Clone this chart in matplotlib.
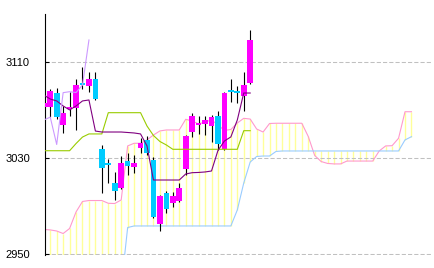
import matplotlib
matplotlib.use('Agg')
import matplotlib.pyplot as plt
import numpy as np

plt.rcParams['font.family'] = ['Liberation Sans', 'DejaVu Sans']

# ---- data ----
opens = [3072.8, 3072.8, 3084.2, 3057.8, 3071.1, 3071.7, 3093.0, 3090.5, 3096.1, 3037.8,
         3025.7, 3009.7, 3005.5, 3027.9, 3022.5, 3038.8, 3045.3, 3028.6, 2975.3, 3001.1,
         2993.0, 2994.7, 3021.1, 3052.2, 3057.8, 3058.6, 3056.5, 3065.3, 3037.8, 3086.3,
         3085.5, 3081.9, 3092.5]
highs = [3077.8, 3087.5, 3088.6, 3073.6, 3085.3, 3096.1, 3106.3, 3101.5, 3102.2, 3041.1,
         3029.4, 3018.8, 3031.9, 3034.0, 3032.7, 3046.7, 3048.2, 3031.1, 2999.4, 3002.8,
         3002.2, 3009.4, 3049.4, 3067.7, 3065.5, 3065.3, 3066.1, 3069.4, 3085.3, 3095.8,
         3090.2, 3102.2, 3136.9]
lows = [3070.3, 3064.7, 3062.8, 3051.3, 3065.0, 3053.6, 3087.7, 3085.0, 3078.6, 3000.8,
        3009.2, 2995.3, 3004.8, 3016.1, 3017.8, 3034.8, 3032.7, 2980.3, 2969.4, 2984.7,
        2989.7, 2993.8, 3016.1, 3048.0, 3050.3, 3049.4, 3043.6, 3036.9, 3036.9, 3077.2,
        3076.3, 3069.7, 3091.9]
closes = [3076.1, 3086.3, 3064.2, 3067.5, 3072.5, 3091.1, 3091.1, 3096.1, 3079.2, 3022.2,
          3024.4, 3002.9, 3026.1, 3023.8, 3026.3, 3043.0, 3034.2, 2981.1, 2998.6, 2987.8,
          2998.6, 3005.5, 3048.6, 3065.5, 3059.0, 3061.9, 3064.3, 3041.5, 3084.7, 3085.5,
          3084.8, 3091.1, 3128.6]

tenkan = [3082.7, 3079.4, 3077.8, 3073.6, 3070.3, 3073.6, 3077.8, 3078.6, 3052.7, 3051.9,
          3051.9, 3051.9, 3051.9, 3051.5, 3051.1, 3050.3, 3040.3, 3011.9, 3011.9, 3011.9,
          3011.9, 3011.9, 3016.9, 3018.0, 3018.2, 3018.6, 3019.4, 3036.5, 3044.4, 3047.8,
          3061.9, 3084.4, 3084.4]
kijun = [3036.3, 3036.3, 3036.3, 3036.3, 3036.3, 3042.3, 3047.7, 3050.3, 3050.3, 3050.3,
         3068.0, 3068.0, 3068.0, 3068.0, 3068.0, 3068.0, 3056.9, 3049.0, 3044.0, 3041.1,
         3037.5, 3037.5, 3037.5, 3037.5, 3037.5, 3037.5, 3037.5, 3037.5, 3037.5, 3037.5,
         3037.5, 3053.0, 3053.0]
span_a = [2970.7, 2970.3, 2969.4, 2967.3, 2971.5, 2985.3, 2994.0, 2994.8, 2994.8, 2994.8,
          2992.5, 2992.3, 2995.3, 3040.3, 3042.5, 3042.5, 3045.3, 3049.4, 3052.8, 3053.6,
          3053.6, 3053.6, 3062.5, 3061.1, 3058.6, 3060.3, 3061.9, 3057.8, 3053.2, 3054.0,
          3059.4, 3063.3, 3062.7, 3054.4, 3051.9, 3059.0, 3059.2, 3059.2, 3059.2, 3059.2,
          3059.2, 3048.2, 3032.3, 3027.3, 3025.7, 3025.3, 3025.3, 3027.7, 3027.7, 3027.7,
          3027.7, 3027.7, 3036.1, 3040.3, 3040.5, 3046.7, 3068.8, 3068.8]
span_b = [2922.7, 2922.7, 2922.7, 2922.7, 2922.7, 2922.7, 2922.7, 2922.7, 2922.7, 2922.7,
          2922.7, 2922.7, 2922.7, 2972.3, 2973.6, 2973.6, 2973.6, 2973.6, 2973.6, 2973.6,
          2973.6, 2973.6, 2973.6, 2973.6, 2973.6, 2973.6, 2973.6, 2973.6, 2973.6, 2973.6,
          2986.9, 3009.4, 3026.9, 3031.5, 3031.9, 3031.9, 3035.7, 3036.1, 3036.1, 3036.1,
          3036.1, 3036.1, 3036.1, 3036.1, 3036.1, 3036.1, 3036.1, 3036.1, 3036.1, 3036.1,
          3036.1, 3036.1, 3036.1, 3036.1, 3036.1, 3036.1, 3045.3, 3048.0]
chikou_shift = 25
y_ticks = [2950, 3030, 3110]
y_tick_labels = ['2950', '3030', '3110']

UP = '#FF00FF'
DOWN = '#00CCFF'

fig = plt.figure(figsize=(4.35, 2.68), dpi=100)
ax = fig.add_axes([45.3 / 435, 1 - 255.0 / 268, (433 - 45.3) / 435, (255.0 - 14) / 268])
ax.set_xlim(0.233, 60.34)
ax.set_ylim(2949.4, 3150.25)

o = np.array(opens); c = np.array(closes); h = np.array(highs); l = np.array(lows)
x = np.arange(len(c))
xc = np.arange(len(span_a))
sa = np.array(span_a); sb = np.array(span_b)

# cloud hatch
ax.vlines(xc, np.minimum(sa, sb), np.maximum(sa, sb), colors='#FFFF99', lw=1.0, zorder=1)
ax.plot(xc, sa, color='#FF99CC', lw=0.8, zorder=2)
ax.plot(xc, sb, color='#99CCFF', lw=0.8, zorder=2)

# candles
ax.vlines(x, l, h, colors='black', lw=0.8, zorder=3)
bottoms = np.minimum(o, c)
heights = np.maximum(np.abs(c - o), 1.0)
cols = [UP if cc >= oo else DOWN for oo, cc in zip(o, c)]
ax.bar(x, heights, bottom=bottoms, width=0.88, color=cols, linewidth=0, zorder=4)

# lines
ax.plot(x, kijun, color='#99CC00', lw=0.8, zorder=5)
ax.plot(x, tenkan, color='#800080', lw=0.8, zorder=5)
ax.plot(x[:len(c) - chikou_shift], c[chikou_shift:], color='#CC99FF', lw=0.8, zorder=5)

# axes styling
for s in ['top', 'right', 'bottom']:
    ax.spines[s].set_visible(False)
ax.spines['left'].set_linewidth(0.8)
ax.spines['left'].set_color('black')
ax.set_xticks([])
ax.set_yticks(y_ticks)
ax.set_yticklabels(y_tick_labels)
ax.tick_params(axis='y', direction='in', length=3, width=0.8, pad=11, labelsize=8, colors='black')
ax.set_axisbelow('line')
ax.yaxis.grid(True, color='#C0C0C0', linestyle=(0, (4, 2)), lw=0.75)

fig.savefig('out.png', dpi=100)
